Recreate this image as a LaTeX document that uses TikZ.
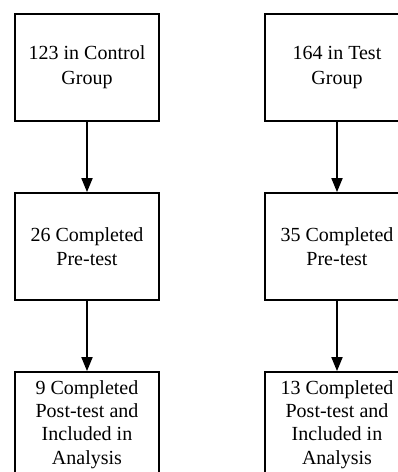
\documentclass[tikz,border=0pt]{standalone}
\usepackage{fontspec}
\setmainfont{Liberation Serif}
\usetikzlibrary{arrows.meta}
\tikzset{
  flowbox/.style={draw=black, line width=1.8pt, minimum width=144pt, minimum height=107pt,
    inner sep=0pt, align=center, font=\fontsize{20}{23.5}\selectfont, text=black},
  widebox/.style={flowbox, font=\fontsize{20}{24.7}\selectfont},
  flowtext/.style={inner sep=0pt, align=center, font=\fontsize{20}{23.3}\selectfont, text=black},
  flowarrow/.style={draw=black, line width=1.8pt, -{Triangle[width=11pt,length=14pt]}}
}
\begin{document}
\begin{tikzpicture}[x=1pt,y=1pt]
\useasboundingbox (0,0) rectangle (398,-472);
\clip (0,0) rectangle (398,-472);
\fill[white] (0,0) rectangle (398,-472);
\node[widebox] (c1) at (87,-67.5) {123 in Control\\Group};
\node[flowbox] (c2) at (87,-246.5) {26 Completed\\Pre-test};
\node[flowbox] (c3) at (87,-425.5) {};
\node[flowtext] (c3text) at (87,-424.5) {9 Completed\\Post-test and\\Included in\\Analysis};
\node[widebox] (t1) at (337,-67.5) {164 in Test\\Group};
\node[flowbox] (t2) at (337,-246.5) {35 Completed\\Pre-test};
\node[flowbox] (t3) at (337,-425.5) {};
\node[flowtext] (t3text) at (337,-424.5) {13 Completed\\Post-test and\\Included in\\Analysis};
\draw[flowarrow] (c1) -- (c2);
\draw[flowarrow] (c2) -- (c3);
\draw[flowarrow] (t1) -- (t2);
\draw[flowarrow] (t2) -- (t3);
\end{tikzpicture}
\end{document}
